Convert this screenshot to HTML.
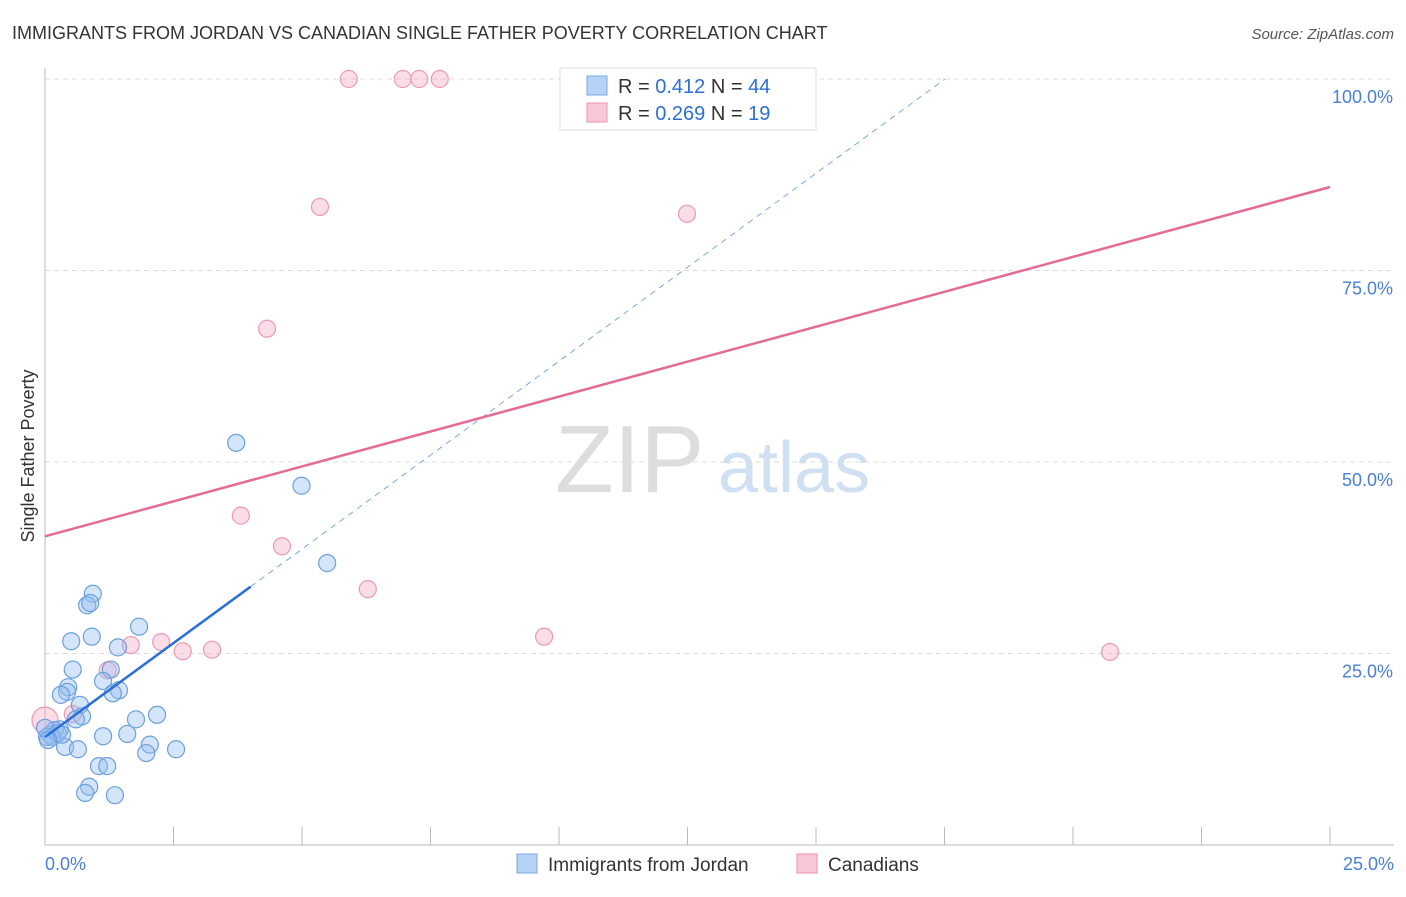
<!DOCTYPE html>
<html><head><meta charset="utf-8"><style>
body{margin:0;background:#fff;font-family:"Liberation Sans",sans-serif;}
svg text{font-family:"Liberation Sans",sans-serif;}
</style></head><body>
<svg id="chart" width="1406" height="892" xmlns="http://www.w3.org/2000/svg">
<text x="12" y="39" font-size="18" fill="#333">IMMIGRANTS FROM JORDAN VS CANADIAN SINGLE FATHER POVERTY CORRELATION CHART</text>
<text x="1394" y="39" font-size="15" fill="#555" text-anchor="end" font-style="italic">Source: ZipAtlas.com</text>
<text x="34" y="456" font-size="18" fill="#333" text-anchor="middle" transform="rotate(-90 34 456)">Single Father Poverty</text>
<text x="555" y="492" font-size="96" fill="#ddd" font-family="Liberation Serif">ZIP</text>
<text x="718" y="492" font-size="72" fill="#cfe0f3">atlas</text>
<g id="grid"></g><g id="pts"></g><g id="lines"></g>
<g>
<rect x="560" y="68" width="256" height="62" fill="#fff" stroke="#ddd"/>
<rect x="587" y="76" width="20" height="19" fill="#b6d2f5" stroke="#7aa8e6"/>
<rect x="587" y="103" width="20" height="19" fill="#f9c8d6" stroke="#ec92ae"/>
<text x="618" y="93" font-size="20" fill="#333">R = <tspan fill="#2e6fd6">0.412</tspan>   N = <tspan fill="#2e6fd6">44</tspan></text>
<text x="618" y="120" font-size="20" fill="#333">R = <tspan fill="#2e6fd6">0.269</tspan>   N = <tspan fill="#2e6fd6"> 19</tspan></text>
</g>
<g>
<rect x="517" y="854" width="20" height="19" fill="#b6d2f5" stroke="#7aa8e6"/>
<text x="548" y="871" font-size="19" fill="#333">Immigrants from Jordan</text>
<rect x="797" y="854" width="20" height="19" fill="#f9c8d6" stroke="#ec92ae"/>
<text x="828" y="871" font-size="19" fill="#333">Canadians</text>
</g>
</svg>
<script>
const yTicks=[25,50,75,100];
const yTickLabels=["25.0%","50.0%","75.0%","100.0%"];
const xTickLabels=["0.0%","25.0%"];
const blueX=[3.72,4.99,5.49,0.93,0.82,0.88,0.51,0.91,1.83,1.42,0.54,1.28,1.13,0.45,0.43,0.31,1.44,1.32,0.68,0.72,0.6,1.77,2.18,0.29,0.19,1.13,1.6,2.04,0.39,0.64,2.55,1.97,1.05,1.21,0.86,0.78,1.36,0.1,0.14,0.04,0,0.25,0.33,0.06];
const blueY=[52.5,46.9,36.8,32.8,31.3,31.6,26.6,27.2,28.5,25.8,22.9,22.9,21.4,20.6,20,19.6,20.2,19.8,18.3,16.8,16.4,16.4,17,15.1,15,14.2,14.5,13.1,12.8,12.5,12.5,12,10.3,10.3,7.6,6.8,6.5,14.4,14.1,14.1,15.3,14.6,14.4,13.7];
const pinkX=[5.91,6.96,7.28,7.68,5.35,12.49,4.32,3.81,4.61,6.28,9.71,20.72,1.67,2.26,2.68,3.25,1.22,0,0.54];
const pinkY=[100,100,100,100,83.3,82.4,67.4,43,39,33.4,27.2,25.2,26.1,26.5,25.3,25.5,22.8,16.3,17.1];
const blueLine=[0,14.1,17.51,100]; // x0,y0,x1,y1 (solid until 4.0)
const pinkLine=[0,40.3,25,85.9];
const NS="http://www.w3.org/2000/svg";
const X=v=>45+v/25*1285, Y=v=>845-v/100*766;
function mk(t,a,p){const e=document.createElementNS(NS,t);for(const k in a)e.setAttribute(k,a[k]);document.getElementById(p).appendChild(e);return e;}
yTicks.forEach((t,i)=>{
 const g=mk('line',{x1:45,x2:1394,y1:Y(t),y2:Y(t),stroke:'#ddd','stroke-dasharray':'5,4'},'grid');
 
 
 const l=mk('text',{x:1393,y:Y(t)+24,'font-size':18,fill:'#4a7fd6','text-anchor':'end'},'grid');
 l.textContent=yTickLabels[i];
 
 
});
const ax=mk('line',{x1:45,x2:45,y1:68,y2:845,stroke:'#bbb'},'grid');


const bx=mk('line',{x1:45,x2:1394,y1:845,y2:845,stroke:'#bbb'},'grid');


for(let i=1;i<=10;i++){const t=mk('line',{x1:X(i*2.5),x2:X(i*2.5),y1:827,y2:845,stroke:'#bbb'},'grid');
 
 }
[[0,45,'start'],[25,1394,'end']].forEach((d,i)=>{const l=mk('text',{x:d[1],y:870,'font-size':18,fill:'#4a7fd6','text-anchor':d[2]},'grid');
 l.textContent=xTickLabels[i];
 
 });
pinkX.forEach((x,i)=>{const c=mk('circle',{cx:X(x),cy:Y(pinkY[i]),r:i==17?13:8.5,fill:'rgba(246,170,195,0.4)',stroke:'#ec9ab4','stroke-width':1.2},'pts');
 
 });
blueX.forEach((x,i)=>{const c=mk('circle',{cx:X(x),cy:Y(blueY[i]),r:8.5,fill:'rgba(150,190,240,0.4)',stroke:'#6a9fe0','stroke-width':1.2},'pts');
 
 });
const bl=(x)=>blueLine[1]+(blueLine[3]-blueLine[1])*(x-blueLine[0])/(blueLine[2]-blueLine[0]);
const d1=mk('line',{x1:X(4),y1:Y(bl(4)),x2:X(blueLine[2]),y2:Y(blueLine[3]),stroke:'#7aa8e6','stroke-width':1,'stroke-dasharray':'6,5'},'lines');


const s1=mk('line',{x1:X(blueLine[0]),y1:Y(blueLine[1]),x2:X(4),y2:Y(bl(4)),stroke:'#2a6fd8','stroke-width':2.5},'lines');


const p1=mk('line',{x1:X(pinkLine[0]),y1:Y(pinkLine[1]),x2:X(pinkLine[2]),y2:Y(pinkLine[3]),stroke:'#e56a95','stroke-width':2.5},'lines');


</script>
</body></html>
